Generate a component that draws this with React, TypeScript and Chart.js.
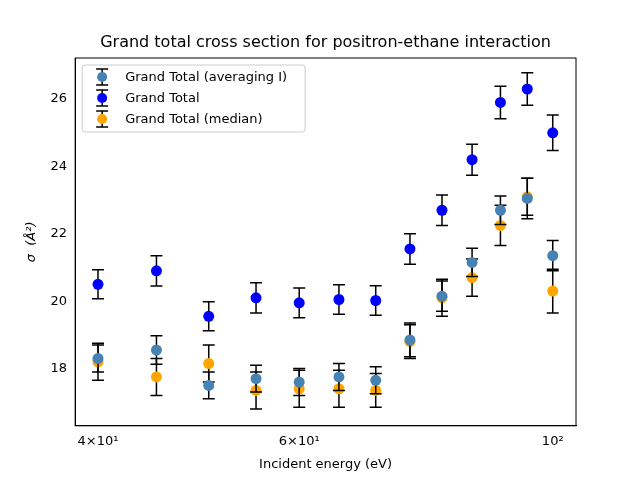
import React, { useRef, useEffect } from 'react';
import { Chart, registerables } from 'chart.js';

Chart.register(...registerables);

const energies = [40, 45, 50, 55, 60, 65, 70, 75, 80, 85, 90, 95, 100];

const avgValues = [18.3, 18.55, 17.5, 17.7, 17.6, 17.75, 17.65, 18.85, 20.15, 21.15, 22.7, 23.05, 21.35];
const avgErrors = [0.4, 0.42, 0.4, 0.4, 0.4, 0.4, 0.4, 0.5, 0.45, 0.42, 0.42, 0.6, 0.45];

const totalValues = [20.5, 20.9, 19.55, 20.1, 19.95, 20.05, 20.02, 21.55, 22.7, 24.2, 25.9, 26.3, 25.0];
const totalErrors = [0.43, 0.45, 0.43, 0.45, 0.44, 0.44, 0.44, 0.45, 0.45, 0.46, 0.48, 0.48, 0.53];

const medianValues = [18.2, 17.75, 18.15, 17.35, 17.4, 17.4, 17.35, 18.8, 20.1, 20.7, 22.25, 23.1, 20.3];
const medianErrors = [0.55, 0.55, 0.55, 0.55, 0.55, 0.55, 0.5, 0.5, 0.55, 0.55, 0.6, 0.55, 0.65];

const xTickValues = [40, 50, 60, 70, 80, 90, 100];
const xTickLabels: Record<number, string> = { 40: '4×10¹', 60: '6×10¹', 100: '10²' };

const chartTitle = 'Grand total cross section for positron-ethane interaction';

const errorSets = [avgErrors, totalErrors, medianErrors];

const errorBarPlugin = {
  id: 'errorBars',
  beforeDatasetDraw(chart: any, args: any) {
    const { ctx, scales } = chart;
    const errs = errorSets[args.index];
    const ds = chart.data.datasets[args.index];
    ctx.save();
    ctx.strokeStyle = '#000';
    ctx.lineWidth = 1.5;
    ds.data.forEach((p: any, i: number) => {
      const x = scales.x.getPixelForValue(p.x);
      const y1 = scales.y.getPixelForValue(p.y - errs[i]);
      const y2 = scales.y.getPixelForValue(p.y + errs[i]);
      ctx.beginPath();
      ctx.moveTo(x, y1);
      ctx.lineTo(x, y2);
      ctx.moveTo(x - 6, y1);
      ctx.lineTo(x + 6, y1);
      ctx.moveTo(x - 6, y2);
      ctx.lineTo(x + 6, y2);
      ctx.stroke();
    });
    ctx.restore();
  },
};

const framePlugin = {
  id: 'frameAndLegend',
  afterDraw(chart: any) {
    const { ctx, chartArea } = chart;
    ctx.save();
    ctx.strokeStyle = '#000';
    ctx.lineWidth = 1;
    ctx.strokeRect(chartArea.left, chartArea.top, chartArea.right - chartArea.left, chartArea.bottom - chartArea.top);

    // title centred over the plot area
    ctx.fillStyle = '#000';
    ctx.font = '16px "DejaVu Sans"';
    ctx.textAlign = 'center';
    ctx.textBaseline = 'middle';
    ctx.fillText(chartTitle, (chartArea.left + chartArea.right) / 2, chartArea.top - 15);
    ctx.textAlign = 'left';

    // legend box in upper left, matplotlib style
    const lx = chartArea.left + 7;
    const ly = chartArea.top + 7;
    const w = 223;
    const h = 67;
    ctx.fillStyle = 'rgba(255,255,255,0.8)';
    ctx.strokeStyle = '#ccc';
    ctx.beginPath();
    ctx.roundRect(lx, ly, w, h, 3);
    ctx.fill();
    ctx.stroke();
    ctx.font = '13px "DejaVu Sans"';
    chart.data.datasets.forEach((ds: any, i: number) => {
      const cy = ly + 12 + i * 21;
      const cx = lx + 20;
      ctx.strokeStyle = '#000';
      ctx.lineWidth = 1.5;
      ctx.beginPath();
      ctx.moveTo(cx, cy - 8);
      ctx.lineTo(cx, cy + 8);
      ctx.moveTo(cx - 6, cy - 8);
      ctx.lineTo(cx + 6, cy - 8);
      ctx.moveTo(cx - 6, cy + 8);
      ctx.lineTo(cx + 6, cy + 8);
      ctx.stroke();
      ctx.fillStyle = ds.backgroundColor;
      ctx.beginPath();
      ctx.arc(cx, cy, 5, 0, Math.PI * 2);
      ctx.fill();
      ctx.fillStyle = '#000';
      ctx.fillText(ds.label, lx + 43, cy + 1);
    });
    ctx.restore();
  },
};

const App: React.FC = () => {
  const chartRef = useRef<HTMLCanvasElement>(null);
  const chartInstance = useRef<Chart | null>(null);

  useEffect(() => {
    if (!chartRef.current) return;
    if (chartInstance.current) chartInstance.current.destroy();

    const makePoints = (vals: number[]) => energies.map((x, i) => ({ x, y: vals[i] }));
    const font = { family: '"DejaVu Sans"', size: 13 };

    chartInstance.current = new Chart(chartRef.current, {
      type: 'scatter',
      data: {
        datasets: [
          { label: 'Grand Total (averaging I)', data: makePoints(avgValues), backgroundColor: 'steelblue', borderWidth: 0 },
          { label: 'Grand Total', data: makePoints(totalValues), backgroundColor: 'blue', borderWidth: 0 },
          { label: 'Grand Total (median)', data: makePoints(medianValues), backgroundColor: 'orange', borderWidth: 0 },
        ],
      },
      options: {
        animation: false,
        responsive: false,
        layout: { padding: { left: 24, right: 64, top: 58, bottom: 0 } },
        elements: { point: { radius: 5.5, hoverRadius: 5.5 } },
        plugins: {
          legend: { display: false },
          tooltip: { enabled: false },
        },
        scales: {
          x: {
            type: 'logarithmic',
            min: 38.2,
            max: 104.8,
            grid: { display: false, drawTicks: true, tickLength: 5, tickColor: '#000' },
            border: { color: '#000' },
            afterBuildTicks: (axis: any) => {
              axis.ticks = xTickValues.map((v) => ({ value: v }));
            },
            ticks: {
              color: '#000',
              font,
              autoSkip: false,
              maxRotation: 0,
              callback: (v: any) => xTickLabels[v as number] ?? '',
            },
            title: { display: true, text: 'Incident energy (eV)', color: '#000', font, padding: { top: 4, bottom: 8 } },
          },
          y: {
            min: 16.3,
            max: 27.22,
            grid: { display: false, drawTicks: true, tickLength: 5, tickColor: '#000' },
            border: { color: '#000' },
            afterBuildTicks: (axis: any) => {
              axis.ticks = [18, 20, 22, 24, 26].map((v) => ({ value: v }));
            },
            ticks: { color: '#000', font },
            title: { display: true, text: 'σ  (Å²)', color: '#000', font: { ...font, style: 'italic' }, padding: { top: 0, bottom: 8 } },
          },
        },
      },
      plugins: [errorBarPlugin, framePlugin],
    } as any);

    return () => {
      if (chartInstance.current) {
        chartInstance.current.destroy();
        chartInstance.current = null;
      }
    };
  }, []);

  return (
    <div style={{ position: 'fixed', left: 0, top: 0, width: 640, height: 480, background: '#fff' }}>
      <canvas ref={chartRef} width={640} height={480} />
    </div>
  );
};

export default App;
